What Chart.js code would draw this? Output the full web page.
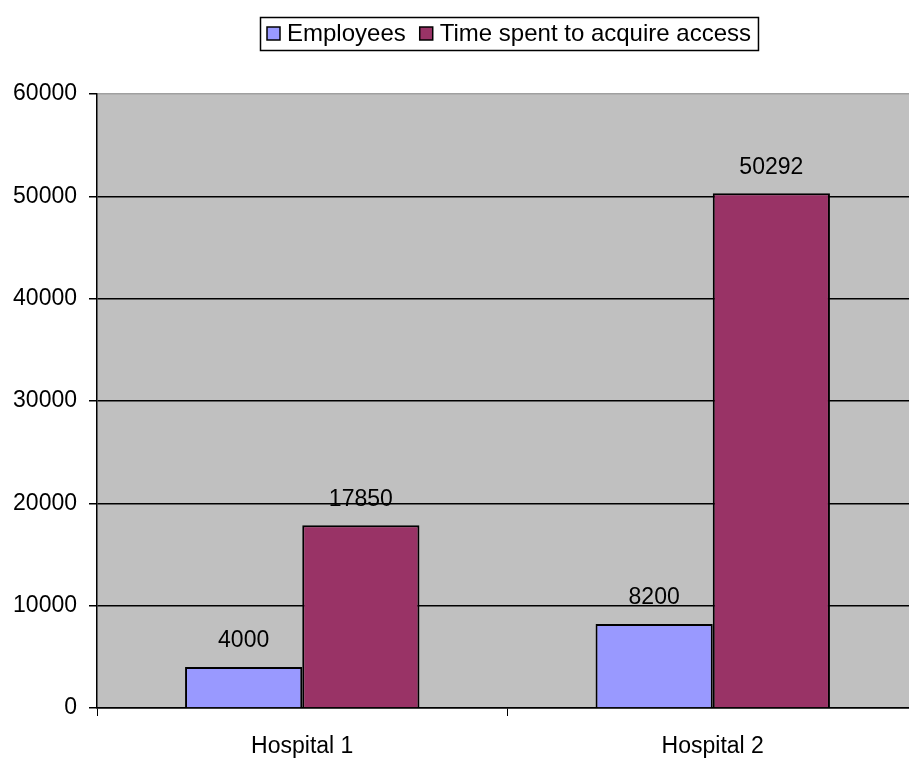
<!DOCTYPE html>
<html>
<head>
<meta charset="utf-8">
<script src="https://cdn.jsdelivr.net/npm/chart.js@4.4.0/dist/chart.umd.min.js"></script>
<style>
  html, body { margin: 0; padding: 0; background: #fff; overflow: hidden; }
  #wrap { width: 918px; height: 758px; }
</style>
</head>
<body>
<div id="wrap"><canvas id="chart" width="918" height="758"></canvas></div>
<script>
const categories = ['Hospital 1', 'Hospital 2'];
const employees = [4000, 8200];
const timeSpent = [17850, 50292];
const seriesNames = ['Employees', 'Time spent to acquire access'];
const seriesColors = ['#9999ff', '#993366'];
const yMax = 60000;
const yStep = 10000;

const FONT = '"Liberation Sans", Arial, sans-serif';

// grey plot area
const plotBackground = {
    id: 'plotBackground',
    beforeDraw(chart) {
        const { ctx, chartArea: a } = chart;
        ctx.save();
        ctx.fillStyle = '#c0c0c0';
        ctx.fillRect(a.left, a.top, a.right - a.left, a.bottom - a.top);
        ctx.restore();
    }
};

// value labels above every bar
const barLabels = {
    id: 'barLabels',
    afterDatasetsDraw(chart) {
        const ctx = chart.ctx;
        ctx.save();
        ctx.font = '23px ' + FONT;
        ctx.fillStyle = '#000';
        ctx.textAlign = 'center';
        ctx.textBaseline = 'middle';
        chart.data.datasets.forEach((ds, i) => {
            chart.getDatasetMeta(i).data.forEach((bar, j) => {
                ctx.fillText(String(ds.data[j]), bar.x, bar.y - 26);
            });
        });
        ctx.restore();
    }
};

// boxed legend like the old excel one
const boxLegend = {
    id: 'boxLegend',
    afterDraw(chart) {
        const ctx = chart.ctx;
        ctx.save();
        ctx.font = '24px ' + FONT;
        const sq = 13, gapSq = 7, gapItem = 14, pad = 7;
        let total = pad;
        const widths = seriesNames.map(n => ctx.measureText(n).width);
        widths.forEach((w, i) => {
            total += sq + gapSq + w + (i < widths.length - 1 ? gapItem : 0);
        });
        total += pad;
        const cx = 509, top = 17, h = 33;
        const left = Math.round(cx - total / 2);
        ctx.fillStyle = '#fff';
        ctx.fillRect(left, top, total, h);
        ctx.strokeStyle = '#000';
        ctx.lineWidth = 1.5;
        ctx.strokeRect(left + 0.5, top + 0.5, total, h);
        let x = left + pad;
        const midY = top + h / 2;
        seriesNames.forEach((n, i) => {
            ctx.fillStyle = seriesColors[i];
            ctx.fillRect(x, midY - sq / 2, sq, sq);
            ctx.lineWidth = 1.5;
            ctx.strokeStyle = '#000';
            ctx.strokeRect(x, midY - sq / 2, sq, sq);
            x += sq + gapSq;
            ctx.fillStyle = '#000';
            ctx.textBaseline = 'middle';
            ctx.textAlign = 'left';
            ctx.fillText(n, x, midY + 1);
            x += widths[i] + gapItem;
        });
        ctx.restore();
    }
};

new Chart(document.getElementById('chart'), {
    type: 'bar',
    data: {
        labels: categories,
        datasets: [
            {
                label: seriesNames[0],
                data: employees,
                backgroundColor: seriesColors[0],
                borderColor: '#000',
                borderWidth: 2,
                categoryPercentage: 0.571,
                barPercentage: 1
            },
            {
                label: seriesNames[1],
                data: timeSpent,
                backgroundColor: seriesColors[1],
                borderColor: '#000',
                borderWidth: 2,
                categoryPercentage: 0.571,
                barPercentage: 1
            }
        ]
    },
    options: {
        responsive: false,
        animation: false,
        layout: { padding: { top: 94, left: 0, right: 0, bottom: 0 } },
        plugins: {
            legend: { display: false },
            tooltip: { enabled: false }
        },
        scales: {
            x: {
                offset: true,
                afterFit(scale) { scale.height = 50; },
                grid: {
                    offset: true,
                    drawOnChartArea: false,
                    drawTicks: true,
                    tickLength: 8,
                    color: '#000',
                    tickColor: '#000'
                },
                border: { color: '#000', width: 1.5 },
                ticks: {
                    color: '#000',
                    padding: 17,
                    font: { family: FONT, size: 23 }
                }
            },
            y: {
                min: 0,
                max: yMax,
                afterFit(scale) { scale.width = 97; },
                grid: {
                    color: ctx => (ctx.tick && ctx.tick.value === yMax ? '#a0a0a0' : '#000'),
                    lineWidth: 1.5,
                    tickLength: 8,
                    tickColor: '#000'
                },
                border: { color: '#000', width: 1.5 },
                ticks: {
                    stepSize: yStep,
                    color: '#000',
                    padding: 12,
                    font: { family: FONT, size: 23 },
                    callback: v => String(v)
                }
            }
        }
    },
    plugins: [plotBackground, barLabels, boxLegend]
});
</script>
</body>
</html>
